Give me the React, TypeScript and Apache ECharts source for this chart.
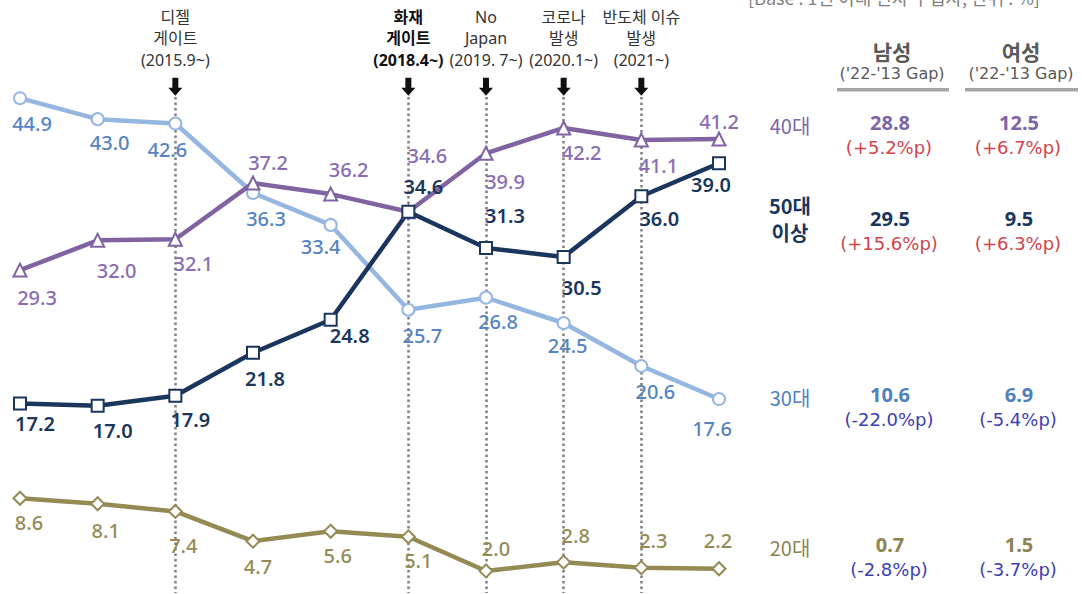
import React, { useEffect, useRef } from "react";
import * as echarts from "echarts";

const years = ["2013", "2014", "2015", "2016", "2017", "2018", "2019", "2020", "2021", "2022"];
const age30 = [44.9, 43.0, 42.6, 36.3, 33.4, 25.7, 26.8, 24.5, 20.6, 17.6];
const age40 = [29.3, 32.0, 32.1, 37.2, 36.2, 34.6, 39.9, 42.2, 41.1, 41.2];
const age50 = [17.2, 17.0, 17.9, 21.8, 24.8, 34.6, 31.3, 30.5, 36.0, 39.0];
const age20 = [8.6, 8.1, 7.4, 4.7, 5.6, 5.1, 2.0, 2.8, 2.3, 2.2];

const eventYears = ["2015", "2018", "2019", "2020", "2021"];
const eventLabels = ["디젤\n게이트\n(2015.9~)", "화재\n게이트\n(2018.4~)", "No\nJapan\n(2019. 7~)", "코로나\n발생\n(2020.1~)", "반도체 이슈\n발생\n(2021~)"];
const eventBold = [false, true, false, false, false];

const tableRowLabels = [["40대"], ["50대", "이상"], ["30대"], ["20대"]];
const maleValues = ["28.8", "29.5", "10.6", "0.7"];
const maleGaps = ["(+5.2%p)", "(+15.6%p)", "(-22.0%p)", "(-2.8%p)"];
const femaleValues = ["12.5", "9.5", "6.9", "1.5"];
const femaleGaps = ["(+6.7%p)", "(+6.3%p)", "(-5.4%p)", "(-3.7%p)"];

// label placement (dx, dy) relative to each point
const off30 = [[12, 25], [12, 23], [-8, 26], [13, 26], [-10, 22], [14, 26], [12, 24], [4, 22], [14, 26], [-7, 29]];
const off40 = [[17, 27], [19, 30], [18, 24], [15, -21], [18, -25], [19, -56], [19, 28], [18, 25], [17, 25], [0, -17]];
const off50 = [[15, 20], [15, 25], [15, 24], [12, 26], [19, 16], [15, -25], [19, -33], [18, 31], [18, 22], [-8, 21]];
const off20 = [[9, 24], [8, 27], [8, 34], [5, 25], [7, 24], [10, 24], [10, -22], [12, -27], [12, -27], [-1, -28]];

const COL30 = { line: "#95b6e0", label: "#5584c2", table: "#4f7fbd" };
const COL40 = { line: "#8064a2", label: "#8a6cb3", table: "#7d66a8" };
const COL50 = { line: "#1b365d", label: "#1b365d", table: "#1b365d" };
const COL20 = { line: "#948a54", label: "#948a54", table: "#8c8452" };

function makeSeries(name: string, data: number[], col: any, symbol: string, size: number, offs: number[][], bold: boolean, extra: any = {}) {
  return {
    type: "line",
    name,
    data: data.map((v, i) => ({ value: v, label: { offset: offs[i] } })),
    symbol,
    symbolSize: size,
    showAllSymbol: true,
    lineStyle: { color: col.line, width: 4.5 },
    itemStyle: { color: col.line, borderWidth: 1.6 },
    z: 3,
    label: {
      show: true,
      position: "inside",
      color: col.label,
      fontSize: 20,
      fontWeight: bold ? 600 : 500,
      fontFamily: "Noto Sans, Noto Sans CJK KR, sans-serif",
      formatter: (p: any) => Number(p.value).toFixed(1),
    },
    emphasis: { disabled: true },
    ...extra,
  };
}

export default function App() {
  const ref = useRef<HTMLDivElement>(null);
  useEffect(() => {
    if (!ref.current) return;
    const chart = echarts.init(ref.current, null, { renderer: "svg" });

    const arrowPath = "path://M4,0 L10,0 L10,10 L14,10 L7,18 L0,10 L4,10 Z";

    const graphics: any[] = [];
    graphics.push({
      type: "text", x: 748, y: -3,
      style: { text: "[Base : 1년 이내 신차 구입자, 단위 : %]", fill: "#808080", fontSize: 18, fontFamily: "Noto Sans CJK KR, sans-serif", align: "left", verticalAlign: "middle" },
    });
    const colX = [892, 1021];
    ["남성", "여성"].forEach((h, i) => {
      graphics.push({ type: "text", x: colX[i], y: 51, style: { text: h, fill: "#595959", fontSize: 21, fontWeight: "bold", fontFamily: "Noto Sans CJK KR, sans-serif", align: "center", verticalAlign: "middle" } });
      graphics.push({ type: "text", x: colX[i], y: 73, style: { text: "('22-'13 Gap)", fill: "#595959", fontSize: 16, fontFamily: "DejaVu Sans, sans-serif", align: "center", verticalAlign: "middle" } });
    });
    graphics.push({ type: "rect", shape: { x: 837, y: 88, width: 112, height: 3.5 }, style: { fill: "#a6a6a6" } });
    graphics.push({ type: "rect", shape: { x: 965, y: 88, width: 113, height: 3.5 }, style: { fill: "#a6a6a6" } });

    const rowCols = [COL40, COL50, COL30, COL20];
    const rowY = [122, 218, 394, 544];
    const rowLabelY = [[125], [205, 232], [397], [547]];
    tableRowLabels.forEach((labs, i) => {
      const c = rowCols[i];
      labs.forEach((lab, k) => {
        graphics.push({ type: "text", x: 790, y: rowLabelY[i][k], style: { text: lab, fill: c.table, fontSize: 20, fontWeight: i === 1 ? "bold" : "normal", fontFamily: "Noto Sans CJK KR, sans-serif", align: "center", verticalAlign: "middle" } });
      });
      const vals = [maleValues[i], femaleValues[i]];
      const gaps = [maleGaps[i], femaleGaps[i]];
      [0, 1].forEach((j) => {
        graphics.push({ type: "text", x: colX[j] - 2, y: rowY[i], style: { text: vals[j], fill: c.table, fontSize: 20, fontWeight: "bold", fontFamily: "Noto Sans, sans-serif", align: "center", verticalAlign: "middle" } });
        const neg = gaps[j].indexOf("-") >= 0;
        graphics.push({ type: "text", x: colX[j] - 3, y: rowY[i] + 25, style: { text: gaps[j], fill: neg ? "#3d3db5" : "#d2434b", fontSize: 18, fontFamily: "DejaVu Sans, sans-serif", align: "center", verticalAlign: "middle" } });
      });
    });

    chart.setOption({
      animation: false,
      grid: { left: 20, right: 363, top: 42, bottom: 1 },
      xAxis: { type: "category", data: years, boundaryGap: false, show: false },
      yAxis: { type: "value", min: 0, max: 50, show: false },
      series: [
        makeSeries("20대", age20, COL20, "emptyDiamond", 13, off20, false, {
          markLine: {
            silent: true,
            z: 1,
            symbol: "none",
            label: { show: false },
            lineStyle: { type: [2.5, 3], color: "#7f7f7f", width: 2.5 },
            data: eventYears.map((y) => [{ coord: [y, 45.0] }, { coord: [y, 0] }]),
          },
          markPoint: {
            silent: true,
            symbol: arrowPath,
            symbolSize: [14, 18],
            itemStyle: { color: "#111111" },
            label: {
              show: true,
              position: "top",
              distance: 7,
              color: "#333333",
              fontSize: 16,
              lineHeight: 21.5,
              align: "center",
              fontFamily: "Noto Sans, Noto Sans CJK KR, sans-serif",
            },
            data: eventYears.map((y, i) => ({
              coord: [y, 45.95],
              label: { formatter: eventLabels[i], fontWeight: eventBold[i] ? "bold" : "normal", color: eventBold[i] ? "#111" : "#333333" },
            })),
          },
        }),
        makeSeries("30대", age30, COL30, "emptyCircle", 12, off30, false),
        makeSeries("40대", age40, COL40, "emptyTriangle", 13, off40, false),
        makeSeries("50대 이상", age50, COL50, "emptyRect", 12, off50, true),
      ],
      graphic: graphics,
    });
    return () => chart.dispose();
  }, []);
  return <div ref={ref} style={{ position: "absolute", left: 0, top: 0, width: 1082, height: 594 }} />;
}
